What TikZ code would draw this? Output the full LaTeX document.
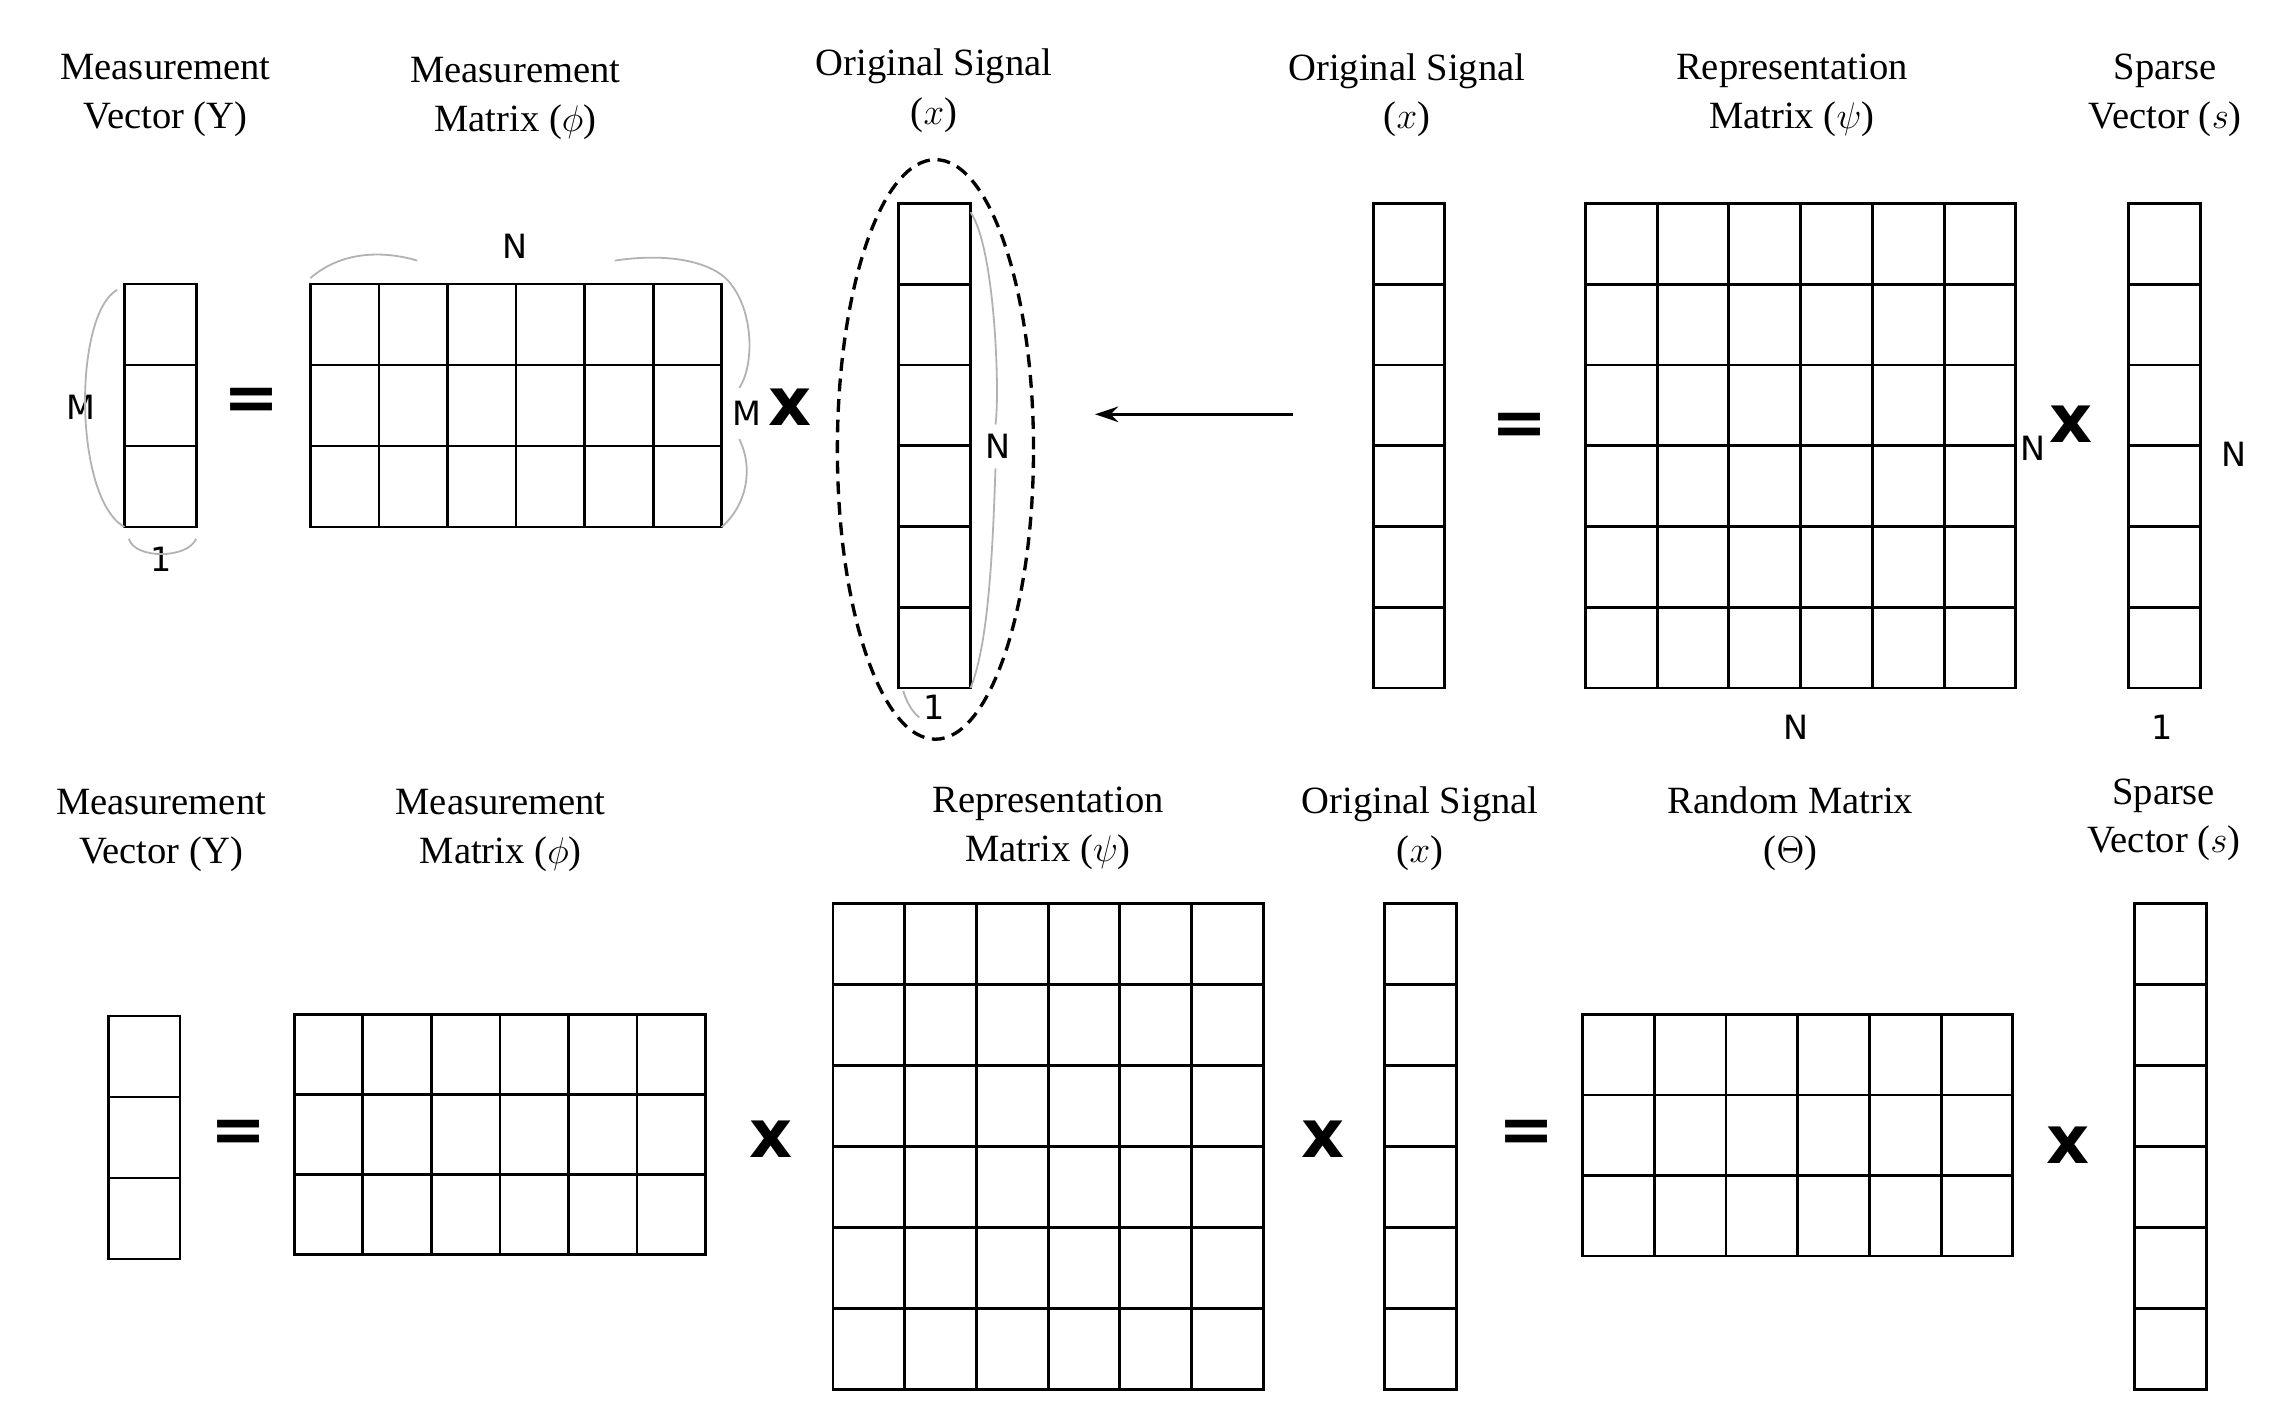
\documentclass[tikz,border=0pt]{standalone}
\usepackage{fontspec}
\setmainfont{Liberation Serif}
\newfontfamily\sansf{DejaVu Sans}
\usetikzlibrary{arrows.meta,shapes.geometric}
\newcommand{\matgrid}[6]{%
  \draw[cell] (#1,#2) rectangle (#3,#4);
  \foreach \i in {1,...,#5}{\draw[cell] ({#1+(#3-#1)*\i/#5},#2) -- ({#1+(#3-#1)*\i/#5},#4);}
  \foreach \j in {1,...,#6}{\draw[cell] (#1,{#2+(#4-#2)*\j/#6}) -- (#3,{#2+(#4-#2)*\j/#6});}
}
\tikzset{
  cell/.style={line width=1.1pt,black},
  lab/.style={align=center,font=\fontsize{15}{19}\selectfont},
  dim/.style={font=\sansf\fontsize{13}{15}\selectfont},
  op/.style={font=\sansf\bfseries\fontsize{26}{28}\selectfont},
  brace/.style={gray!60,line width=0.7pt},
}
\begin{document}
\begin{tikzpicture}[x=0.02cm,y=-0.02cm]
\useasboundingbox (0,0) rectangle (1552,967);
% ---------- top left
\node[lab] (t1) at (113,65) {Measurement\\Vector (Y)};
\node[lab] (t2) at (352,67) {Measurement\\Matrix ($\phi$)};
\node[lab] (t3) at (638,62) {Original Signal\\($x$)};
\matgrid{85}{194}{134}{360}{1}{3}
\matgrid{212}{194}{493}{360}{6}{3}
\matgrid{614}{139}{663}{470}{1}{6}
\node[op] (e1) at (172,276) {=};
\node[op] (m1) at (540,278) {x};
\node[dim] (dM1) at (55,278) {M};
\node[dim] (d11) at (110,382) {1};
\node[dim] (dN1) at (352,168) {N};
\node[dim] (dM2) at (510,282) {M};
\node[dim] (dN2) at (682,305) {N};
\node[dim] (d12) at (638,483) {1};
\draw[brace] (80,198) .. controls (50,215) and (50,340) .. (85,360);
\draw[brace] (88,368) .. controls (92,382) and (128,382) .. (134,368);
\draw[brace] (212,190) .. controls (235,170) and (265,172) .. (285,178);
\draw[brace] (420,178) .. controls (460,172) and (490,180) .. (500,195);
\draw[brace] (500,195) .. controls (515,215) and (515,250) .. (505,265);
\draw[brace] (505,300) .. controls (515,320) and (510,345) .. (493,360);
\draw[brace] (663,145) .. controls (680,170) and (683,270) .. (680,290);
\draw[brace] (680,320) .. controls (678,380) and (675,440) .. (663,470);
\draw[brace] (617,472) .. controls (620,482) and (625,488) .. (628,490);
\node[draw,dash pattern=on 5pt off 3pt,ellipse,line width=1.3pt,inner sep=0pt,minimum width=2.68cm,minimum height=7.92cm] (ell) at (639,307) {};
\coordinate (a1) at (883,283);
\coordinate (a2) at (748,283);
\draw[line width=1.2pt,-{Stealth[length=9pt,width=6pt]}] (a1) -- (a2);
% ---------- top right
\node[lab] (t4) at (961,65) {Original Signal\\($x$)};
\node[lab] (t5) at (1224,65) {Representation\\Matrix ($\psi$)};
\node[lab] (t6) at (1479,65) {Sparse\\Vector ($s$)};
\matgrid{938}{139}{987}{470}{1}{6}
\matgrid{1083}{139}{1377}{470}{6}{6}
\matgrid{1454}{139}{1503}{470}{1}{6}
\node[op] (e2) at (1038,293) {=};
\node[op] (m2) at (1415,290) {x};
\node[dim] (dN3) at (1389,306) {N};
\node[dim] (dN4) at (1227,497) {N};
\node[dim] (dN5) at (1526,310) {N};
\node[dim] (d13) at (1477,497) {1};
% ---------- bottom
\node[lab] (b1) at (110,567) {Measurement\\Vector (Y)};
\node[lab] (b2) at (342,567) {Measurement\\Matrix ($\phi$)};
\node[lab] (b3) at (716,566) {Representation\\Matrix ($\psi$)};
\node[lab] (b4) at (970,566) {Original Signal\\($x$)};
\node[lab] (b5) at (1223,566) {Random Matrix\\($\Theta$)};
\node[lab] (b6) at (1478,560) {Sparse\\Vector ($s$)};
\matgrid{74}{694}{123}{860}{1}{3}
\matgrid{201}{693}{482}{857}{6}{3}
\matgrid{569}{617}{863}{949}{6}{6}
\matgrid{946}{617}{995}{949}{1}{6}
\matgrid{1081}{693}{1375}{858}{6}{3}
\matgrid{1458}{617}{1507}{949}{1}{6}
\node[op] (e3) at (163,776) {=};
\node[op] (m3) at (527,778) {x};
\node[op] (m4) at (904,778) {x};
\node[op] (e4) at (1043,776) {=};
\node[op] (m5) at (1413,782) {x};
\end{tikzpicture}
\end{document}
